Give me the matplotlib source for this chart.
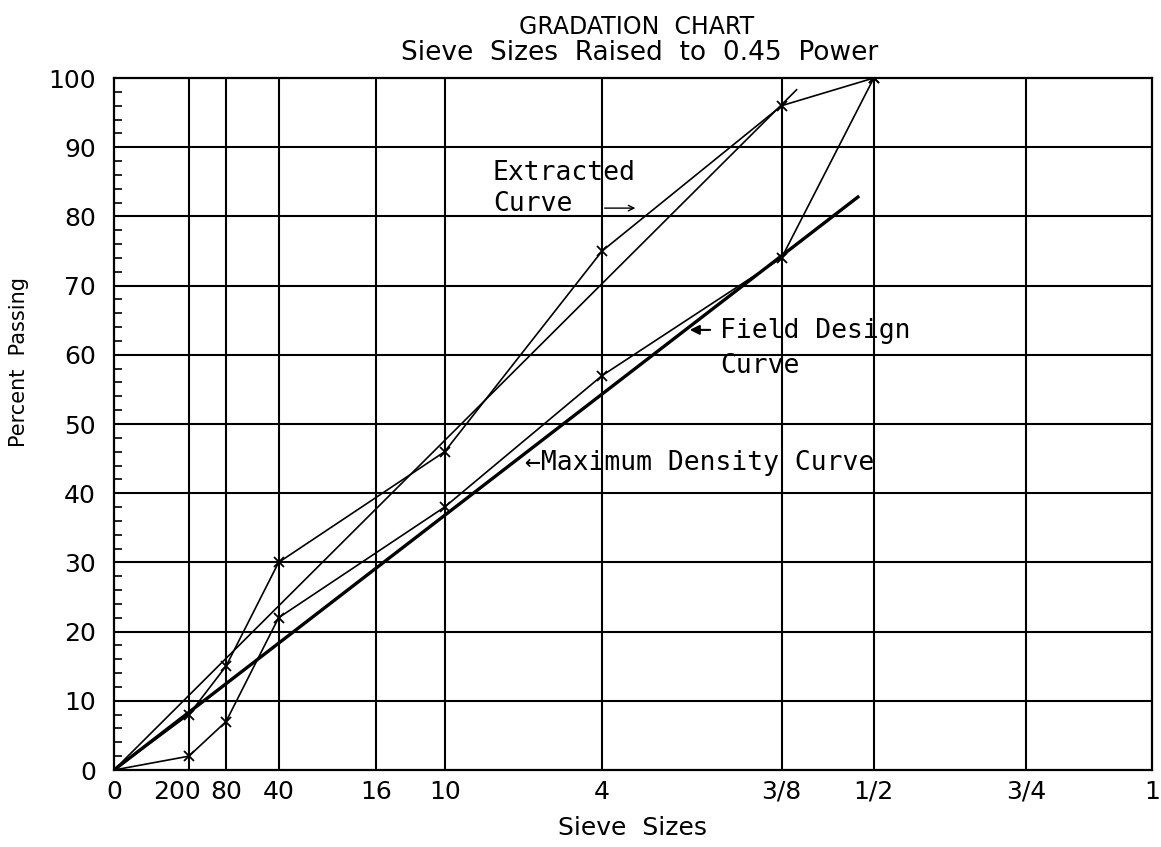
import matplotlib
matplotlib.use("Agg")
import matplotlib.pyplot as plt
import matplotlib.transforms as mtransforms
import numpy as np

# --- sieve sizes (inches) and their labels ---
SIEVE_LABELS = ["0", "200", "80", "40", "16", "10", "4", "3/8", "1/2", "3/4", "1"]
SIEVE_IN = [0, 0.0029, 0.0071, 0.0167, 0.0469, 0.0787, 0.187, 0.375, 0.5, 0.75, 1.0]
POWER = 0.45

# --- gradation curves (sieve size in inches, percent passing) ---
CURVE_SIEVES = [0, 0.0029, 0.0071, 0.0167, 0.0787, 0.187, 0.375, 0.5]
EXTRACTED_PCT = [0, 8, 15, 30, 46, 75, 96, 100]
FIELD_DESIGN_PCT = [0, 2, 7, 22, 38, 57, 74, 100]

# --- straight maximum density lines (end points) ---
MAXDEN_THIN_IN = [0, 0.394]
MAXDEN_THIN_PCT = [0, 98.3]
MAXDEN_THICK_IN = [0, 0.477]
MAXDEN_THICK_PCT = [0, 82.8]


def p45(sizes):
    return np.asarray(sizes, dtype=float) ** POWER


FONT = "DejaVu Sans"
MONO = "DejaVu Sans Mono"

fig = plt.figure(figsize=(11.61, 8.47), dpi=100)
ax = fig.add_axes([0.0982, 0.0909, 0.8940, 0.8170])

ax.set_xlim(0, 1)
ax.set_ylim(0, 100)

# grid
for x in p45(SIEVE_IN)[1:-1]:
    ax.axvline(x, color="black", lw=1.5, zorder=1)
for y in range(10, 100, 10):
    ax.axhline(y, color="black", lw=1.5, zorder=1)
for s in ax.spines.values():
    s.set_linewidth(1.6)

# curves
ax.plot(p45(MAXDEN_THICK_IN), MAXDEN_THICK_PCT, color="black", lw=2.4, zorder=3)
ax.plot(p45(MAXDEN_THIN_IN), MAXDEN_THIN_PCT, color="black", lw=1.2, zorder=3)
ax.plot(p45(CURVE_SIEVES), EXTRACTED_PCT, color="black", lw=1.2,
        marker="x", ms=6.5, mew=1.3, zorder=4)
ax.plot(p45(CURVE_SIEVES), FIELD_DESIGN_PCT, color="black", lw=1.2,
        marker="x", ms=6.5, mew=1.3, zorder=4)

# ticks
ax.set_xticks(p45(SIEVE_IN))
ax.set_xticklabels(SIEVE_LABELS, fontsize=18, family=FONT)
ax.tick_params(axis="x", length=0, pad=7)
ax.set_yticks(range(0, 101, 10))
ax.set_yticks(range(0, 101, 2), minor=True)
ax.tick_params(axis="y", which="both", direction="in", length=6, width=1.2,
               labelsize=18, pad=13)
ax.tick_params(axis="y", which="minor", labelleft=False)
for lab in ax.get_yticklabels():
    lab.set_family(FONT)

# nudge the 200 label left, as on the original sheet
lab200 = ax.get_xticklabels()[1]
lab200.set_transform(lab200.get_transform() +
                     mtransforms.ScaledTranslation(-0.12, 0, fig.dpi_scale_trans))

ax.set_xlabel("Sieve  Sizes", fontsize=18, family=FONT, labelpad=9)
ax.set_ylabel("Percent  Passing", fontsize=15, family=FONT)
ax.yaxis.set_label_coords(-0.082, 0.59)

fig.text(0.548, 0.982, "GRADATION  CHART", ha="center", va="top",
         fontsize=17, family=FONT)
fig.text(0.551, 0.953, "Sieve  Sizes  Raised  to  0.45  Power", ha="center",
         va="top", fontsize=19, family=FONT)

# annotations
ax.text(0.365, 86.3, "Extracted", fontsize=19, family=MONO, va="center")
ax.text(0.365, 81.8, "Curve", fontsize=19, family=MONO, va="center")
ax.annotate("", xy=(0.505, 81.2), xytext=(0.470, 81.2),
            arrowprops=dict(arrowstyle="->", lw=1.0, color="black"))

ax.annotate("", xy=(0.552, 63.6), xytext=(0.577, 63.6),
            arrowprops=dict(arrowstyle="-|>", lw=1.5, color="black",
                            mutation_scale=14))
ax.text(0.584, 63.4, "Field Design", fontsize=19, family=MONO, va="center")
ax.text(0.584, 58.4, "Curve", fontsize=19, family=MONO, va="center")

ax.text(0.396, 44.4, "\u2190Maximum Density Curve", fontsize=19, family=MONO,
        va="center")

fig.savefig("out.png", dpi=100)
